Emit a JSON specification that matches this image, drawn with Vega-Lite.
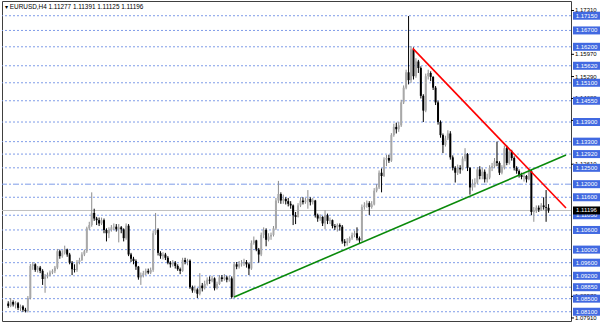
{
"$schema": "https://vega.github.io/schema/vega-lite/v6.json",
"width": 569, "height": 320,
"autosize": {"type": "none"},
"padding": {"left": 2, "top": 1, "right": 29, "bottom": 12},
"background": "#ffffff",
"config": {"view": {"stroke": "#404040", "strokeWidth": 1}, "font": "Liberation Sans"},
"title": {"text": "▾  EURUSD,H4  1.11277 1.11391 1.11125 1.11196", "anchor": "start", "frame": "group", "orient": "top", "offset": -9, "fontSize": 6.4, "fontWeight": "normal", "color": "#000000", "font": "Liberation Sans", "dx": 3},
"datasets": {
"bars": [
{"i":0,"o":1.0835,"h":1.0842,"l":1.0822,"c":1.0828},
{"i":1,"o":1.0828,"h":1.0852,"l":1.0824,"c":1.0840},
{"i":2,"o":1.0840,"h":1.0845,"l":1.0826,"c":1.0832},
{"i":3,"o":1.0832,"h":1.0842,"l":1.0820,"c":1.0836},
{"i":4,"o":1.0836,"h":1.0840,"l":1.0815,"c":1.0822},
{"i":5,"o":1.0822,"h":1.0832,"l":1.0812,"c":1.0826},
{"i":6,"o":1.0826,"h":1.0830,"l":1.0810,"c":1.0816},
{"i":7,"o":1.0816,"h":1.0822,"l":1.0808,"c":1.0812},
{"i":8,"o":1.0812,"h":1.0858,"l":1.0808,"c":1.0852},
{"i":9,"o":1.0852,"h":1.0956,"l":1.0848,"c":1.0950},
{"i":10,"o":1.0950,"h":1.0962,"l":1.0938,"c":1.0955},
{"i":11,"o":1.0955,"h":1.0958,"l":1.0932,"c":1.0938},
{"i":12,"o":1.0938,"h":1.0950,"l":1.0930,"c":1.0945},
{"i":13,"o":1.0945,"h":1.0950,"l":1.0928,"c":1.0935},
{"i":14,"o":1.0935,"h":1.0940,"l":1.0892,"c":1.0910},
{"i":15,"o":1.0910,"h":1.0925,"l":1.0868,"c":1.0918},
{"i":16,"o":1.0918,"h":1.0930,"l":1.0912,"c":1.0923},
{"i":17,"o":1.0923,"h":1.0936,"l":1.0918,"c":1.0930},
{"i":18,"o":1.0930,"h":1.0940,"l":1.0925,"c":1.0934},
{"i":19,"o":1.0934,"h":1.0950,"l":1.0928,"c":1.0945},
{"i":20,"o":1.0945,"h":1.1002,"l":1.0940,"c":1.0995},
{"i":21,"o":1.0995,"h":1.1000,"l":1.0972,"c":1.0980},
{"i":22,"o":1.0980,"h":1.0998,"l":1.0975,"c":1.0990},
{"i":23,"o":1.0990,"h":1.1012,"l":1.0985,"c":1.1000},
{"i":24,"o":1.1000,"h":1.1003,"l":1.0978,"c":1.0985},
{"i":25,"o":1.0985,"h":1.0990,"l":1.0955,"c":1.0960},
{"i":26,"o":1.0960,"h":1.0965,"l":1.0922,"c":1.0940},
{"i":27,"o":1.0940,"h":1.0955,"l":1.0930,"c":1.0938},
{"i":28,"o":1.0938,"h":1.0968,"l":1.0932,"c":1.0962},
{"i":29,"o":1.0962,"h":1.0975,"l":1.0955,"c":1.0968},
{"i":30,"o":1.0968,"h":1.0992,"l":1.0965,"c":1.0985},
{"i":31,"o":1.0985,"h":1.1000,"l":1.0980,"c":1.0995},
{"i":32,"o":1.0995,"h":1.1070,"l":1.0990,"c":1.1065},
{"i":33,"o":1.1065,"h":1.1085,"l":1.1060,"c":1.1075},
{"i":34,"o":1.1075,"h":1.1175,"l":1.1070,"c":1.1112},
{"i":35,"o":1.1112,"h":1.1125,"l":1.1088,"c":1.1095},
{"i":36,"o":1.1095,"h":1.1100,"l":1.1075,"c":1.1090},
{"i":37,"o":1.1090,"h":1.1098,"l":1.1072,"c":1.1080},
{"i":38,"o":1.1080,"h":1.1098,"l":1.1075,"c":1.1090},
{"i":39,"o":1.1090,"h":1.1095,"l":1.1050,"c":1.1060},
{"i":40,"o":1.1060,"h":1.1065,"l":1.1025,"c":1.1050},
{"i":41,"o":1.1050,"h":1.1068,"l":1.1035,"c":1.1060},
{"i":42,"o":1.1060,"h":1.1075,"l":1.1055,"c":1.1068},
{"i":43,"o":1.1068,"h":1.1080,"l":1.1060,"c":1.1070},
{"i":44,"o":1.1070,"h":1.1078,"l":1.1055,"c":1.1062},
{"i":45,"o":1.1062,"h":1.1078,"l":1.1022,"c":1.1068},
{"i":46,"o":1.1068,"h":1.1072,"l":1.1050,"c":1.1062},
{"i":47,"o":1.1062,"h":1.1065,"l":1.1025,"c":1.1035},
{"i":48,"o":1.1035,"h":1.1080,"l":1.1030,"c":1.1073},
{"i":49,"o":1.1073,"h":1.1078,"l":1.0980,"c":1.0985},
{"i":50,"o":1.0985,"h":1.0990,"l":1.0962,"c":1.0972},
{"i":51,"o":1.0972,"h":1.0978,"l":1.0955,"c":1.0965},
{"i":52,"o":1.0965,"h":1.0970,"l":1.0938,"c":1.0948},
{"i":53,"o":1.0948,"h":1.0950,"l":1.0908,"c":1.0915},
{"i":54,"o":1.0915,"h":1.0930,"l":1.0892,"c":1.0922},
{"i":55,"o":1.0922,"h":1.0935,"l":1.0915,"c":1.0928},
{"i":56,"o":1.0928,"h":1.0942,"l":1.0922,"c":1.0935},
{"i":57,"o":1.0935,"h":1.0942,"l":1.0925,"c":1.0930},
{"i":58,"o":1.0930,"h":1.0945,"l":1.0925,"c":1.0938},
{"i":59,"o":1.0938,"h":1.1058,"l":1.0932,"c":1.1050},
{"i":60,"o":1.1050,"h":1.1112,"l":1.1045,"c":1.1060},
{"i":61,"o":1.1060,"h":1.1065,"l":1.0982,"c":1.0990},
{"i":62,"o":1.0990,"h":1.0995,"l":1.0972,"c":1.0980},
{"i":63,"o":1.0980,"h":1.0992,"l":1.0970,"c":1.0985},
{"i":64,"o":1.0985,"h":1.0990,"l":1.0968,"c":1.0975},
{"i":65,"o":1.0975,"h":1.0980,"l":1.0955,"c":1.0960},
{"i":66,"o":1.0960,"h":1.0965,"l":1.0945,"c":1.0955},
{"i":67,"o":1.0955,"h":1.0968,"l":1.0948,"c":1.0960},
{"i":68,"o":1.0960,"h":1.0965,"l":1.0942,"c":1.0950},
{"i":69,"o":1.0950,"h":1.0955,"l":1.0935,"c":1.0940},
{"i":70,"o":1.0940,"h":1.0945,"l":1.0925,"c":1.0935},
{"i":71,"o":1.0935,"h":1.0975,"l":1.0932,"c":1.0968},
{"i":72,"o":1.0968,"h":1.0975,"l":1.0955,"c":1.0962},
{"i":73,"o":1.0962,"h":1.0972,"l":1.0952,"c":1.0966},
{"i":74,"o":1.0966,"h":1.0970,"l":1.0880,"c":1.0885},
{"i":75,"o":1.0885,"h":1.0890,"l":1.0868,"c":1.0875},
{"i":76,"o":1.0875,"h":1.0890,"l":1.0868,"c":1.0878},
{"i":77,"o":1.0878,"h":1.0882,"l":1.0852,"c":1.0865},
{"i":78,"o":1.0865,"h":1.0928,"l":1.0860,"c":1.0890},
{"i":79,"o":1.0890,"h":1.0898,"l":1.0872,"c":1.0882},
{"i":80,"o":1.0882,"h":1.0905,"l":1.0878,"c":1.0895},
{"i":81,"o":1.0895,"h":1.0915,"l":1.0890,"c":1.0908},
{"i":82,"o":1.0908,"h":1.0918,"l":1.0895,"c":1.0905},
{"i":83,"o":1.0905,"h":1.0920,"l":1.0900,"c":1.0912},
{"i":84,"o":1.0912,"h":1.0915,"l":1.0875,"c":1.0882},
{"i":85,"o":1.0882,"h":1.0902,"l":1.0878,"c":1.0895},
{"i":86,"o":1.0895,"h":1.0922,"l":1.0892,"c":1.0915},
{"i":87,"o":1.0915,"h":1.0922,"l":1.0902,"c":1.0910},
{"i":88,"o":1.0910,"h":1.0925,"l":1.0905,"c":1.0915},
{"i":89,"o":1.0915,"h":1.0920,"l":1.0900,"c":1.0908},
{"i":90,"o":1.0908,"h":1.0920,"l":1.0902,"c":1.0912},
{"i":91,"o":1.0912,"h":1.0918,"l":1.0850,"c":1.0855},
{"i":92,"o":1.0855,"h":1.0962,"l":1.0852,"c":1.0955},
{"i":93,"o":1.0955,"h":1.0962,"l":1.0940,"c":1.0948},
{"i":94,"o":1.0948,"h":1.0965,"l":1.0942,"c":1.0955},
{"i":95,"o":1.0955,"h":1.0968,"l":1.0948,"c":1.0958},
{"i":96,"o":1.0958,"h":1.0972,"l":1.0950,"c":1.0962},
{"i":97,"o":1.0962,"h":1.0968,"l":1.0945,"c":1.0955},
{"i":98,"o":1.0955,"h":1.0960,"l":1.0922,"c":1.0942},
{"i":99,"o":1.0942,"h":1.1028,"l":1.0938,"c":1.1020},
{"i":100,"o":1.1020,"h":1.1040,"l":1.1015,"c":1.1028},
{"i":101,"o":1.1028,"h":1.1030,"l":1.0995,"c":1.1000},
{"i":102,"o":1.1000,"h":1.1005,"l":1.0960,"c":1.0985},
{"i":103,"o":1.0985,"h":1.1052,"l":1.0980,"c":1.1045},
{"i":104,"o":1.1045,"h":1.1068,"l":1.1035,"c":1.1060},
{"i":105,"o":1.1060,"h":1.1065,"l":1.1010,"c":1.1030},
{"i":106,"o":1.1030,"h":1.1050,"l":1.1025,"c":1.1040},
{"i":107,"o":1.1040,"h":1.1052,"l":1.1030,"c":1.1045},
{"i":108,"o":1.1045,"h":1.1072,"l":1.1040,"c":1.1065},
{"i":109,"o":1.1065,"h":1.1158,"l":1.1060,"c":1.1150},
{"i":110,"o":1.1150,"h":1.1210,"l":1.1142,"c":1.1170},
{"i":111,"o":1.1170,"h":1.1175,"l":1.1140,"c":1.1150},
{"i":112,"o":1.1150,"h":1.1168,"l":1.1140,"c":1.1155},
{"i":113,"o":1.1155,"h":1.1160,"l":1.1138,"c":1.1148},
{"i":114,"o":1.1148,"h":1.1158,"l":1.1132,"c":1.1140},
{"i":115,"o":1.1140,"h":1.1148,"l":1.1125,"c":1.1135},
{"i":116,"o":1.1135,"h":1.1138,"l":1.1075,"c":1.1105},
{"i":117,"o":1.1105,"h":1.1115,"l":1.1078,"c":1.1100},
{"i":118,"o":1.1100,"h":1.1142,"l":1.1098,"c":1.1135},
{"i":119,"o":1.1135,"h":1.1160,"l":1.1130,"c":1.1150},
{"i":120,"o":1.1150,"h":1.1160,"l":1.1138,"c":1.1145},
{"i":121,"o":1.1145,"h":1.1158,"l":1.1140,"c":1.1150},
{"i":122,"o":1.1150,"h":1.1182,"l":1.1125,"c":1.1155},
{"i":123,"o":1.1155,"h":1.1160,"l":1.1135,"c":1.1145},
{"i":124,"o":1.1145,"h":1.1158,"l":1.1138,"c":1.1150},
{"i":125,"o":1.1150,"h":1.1152,"l":1.1098,"c":1.1105},
{"i":126,"o":1.1105,"h":1.1110,"l":1.1085,"c":1.1095},
{"i":127,"o":1.1095,"h":1.1108,"l":1.1088,"c":1.1100},
{"i":128,"o":1.1100,"h":1.1102,"l":1.1072,"c":1.1080},
{"i":129,"o":1.1080,"h":1.1120,"l":1.1062,"c":1.1105},
{"i":130,"o":1.1105,"h":1.1110,"l":1.1078,"c":1.1088},
{"i":131,"o":1.1088,"h":1.1098,"l":1.1078,"c":1.1090},
{"i":132,"o":1.1090,"h":1.1092,"l":1.1065,"c":1.1072},
{"i":133,"o":1.1072,"h":1.1078,"l":1.1060,"c":1.1068},
{"i":134,"o":1.1068,"h":1.1080,"l":1.1055,"c":1.1075},
{"i":135,"o":1.1075,"h":1.1080,"l":1.1058,"c":1.1070},
{"i":136,"o":1.1070,"h":1.1075,"l":1.1018,"c":1.1025},
{"i":137,"o":1.1025,"h":1.1032,"l":1.1010,"c":1.1020},
{"i":138,"o":1.1020,"h":1.1035,"l":1.1012,"c":1.1025},
{"i":139,"o":1.1025,"h":1.1040,"l":1.1020,"c":1.1035},
{"i":140,"o":1.1035,"h":1.1052,"l":1.1030,"c":1.1045},
{"i":141,"o":1.1045,"h":1.1058,"l":1.1038,"c":1.1050},
{"i":142,"o":1.1050,"h":1.1068,"l":1.1028,"c":1.1035},
{"i":143,"o":1.1035,"h":1.1040,"l":1.1020,"c":1.1028},
{"i":144,"o":1.1028,"h":1.1138,"l":1.1025,"c":1.1130},
{"i":145,"o":1.1130,"h":1.1145,"l":1.1122,"c":1.1135},
{"i":146,"o":1.1135,"h":1.1150,"l":1.1128,"c":1.1142},
{"i":147,"o":1.1142,"h":1.1148,"l":1.1106,"c":1.1130},
{"i":148,"o":1.1130,"h":1.1148,"l":1.1125,"c":1.1138},
{"i":149,"o":1.1138,"h":1.1188,"l":1.1135,"c":1.1180},
{"i":150,"o":1.1180,"h":1.1200,"l":1.1175,"c":1.1190},
{"i":151,"o":1.1190,"h":1.1242,"l":1.1185,"c":1.1235},
{"i":152,"o":1.1235,"h":1.1248,"l":1.1175,"c":1.1225},
{"i":153,"o":1.1225,"h":1.1282,"l":1.1222,"c":1.1275},
{"i":154,"o":1.1275,"h":1.1290,"l":1.1255,"c":1.1280},
{"i":155,"o":1.1280,"h":1.1290,"l":1.1265,"c":1.1272},
{"i":156,"o":1.1272,"h":1.1356,"l":1.1268,"c":1.1350},
{"i":157,"o":1.1350,"h":1.1385,"l":1.1345,"c":1.1375},
{"i":158,"o":1.1375,"h":1.1388,"l":1.1355,"c":1.1368},
{"i":159,"o":1.1368,"h":1.1390,"l":1.1360,"c":1.1380},
{"i":160,"o":1.1380,"h":1.1458,"l":1.1375,"c":1.1450},
{"i":161,"o":1.1450,"h":1.1502,"l":1.1445,"c":1.1495},
{"i":162,"o":1.1495,"h":1.1550,"l":1.1490,"c":1.1542},
{"i":163,"o":1.1542,"h":1.1714,"l":1.1505,"c":1.1518},
{"i":164,"o":1.1518,"h":1.1622,"l":1.1510,"c":1.1612},
{"i":165,"o":1.1612,"h":1.1618,"l":1.1520,"c":1.1530},
{"i":166,"o":1.1530,"h":1.1585,"l":1.1525,"c":1.1575},
{"i":167,"o":1.1575,"h":1.1580,"l":1.1540,"c":1.1555},
{"i":168,"o":1.1555,"h":1.1560,"l":1.1462,"c":1.1470},
{"i":169,"o":1.1470,"h":1.1475,"l":1.1390,"c":1.1425},
{"i":170,"o":1.1425,"h":1.1538,"l":1.1420,"c":1.1530},
{"i":171,"o":1.1530,"h":1.1550,"l":1.1520,"c":1.1540},
{"i":172,"o":1.1540,"h":1.1545,"l":1.1515,"c":1.1528},
{"i":173,"o":1.1528,"h":1.1530,"l":1.1488,"c":1.1495},
{"i":174,"o":1.1495,"h":1.1500,"l":1.1442,"c":1.1450},
{"i":175,"o":1.1450,"h":1.1455,"l":1.1382,"c":1.1390},
{"i":176,"o":1.1390,"h":1.1395,"l":1.1342,"c":1.1350},
{"i":177,"o":1.1350,"h":1.1355,"l":1.1295,"c":1.1320},
{"i":178,"o":1.1320,"h":1.1348,"l":1.1315,"c":1.1340},
{"i":179,"o":1.1340,"h":1.1365,"l":1.1335,"c":1.1355},
{"i":180,"o":1.1355,"h":1.1362,"l":1.1275,"c":1.1282},
{"i":181,"o":1.1282,"h":1.1288,"l":1.1242,"c":1.1250},
{"i":182,"o":1.1250,"h":1.1255,"l":1.1205,"c":1.1235},
{"i":183,"o":1.1235,"h":1.1260,"l":1.1228,"c":1.1250},
{"i":184,"o":1.1250,"h":1.1258,"l":1.1232,"c":1.1245},
{"i":185,"o":1.1245,"h":1.1285,"l":1.1242,"c":1.1278},
{"i":186,"o":1.1278,"h":1.1310,"l":1.1270,"c":1.1292},
{"i":187,"o":1.1292,"h":1.1295,"l":1.1240,"c":1.1250},
{"i":188,"o":1.1250,"h":1.1252,"l":1.1168,"c":1.1190},
{"i":189,"o":1.1190,"h":1.1215,"l":1.1180,"c":1.1200},
{"i":190,"o":1.1200,"h":1.1218,"l":1.1190,"c":1.1205},
{"i":191,"o":1.1205,"h":1.1252,"l":1.1200,"c":1.1245},
{"i":192,"o":1.1245,"h":1.1255,"l":1.1215,"c":1.1225},
{"i":193,"o":1.1225,"h":1.1250,"l":1.1215,"c":1.1238},
{"i":194,"o":1.1238,"h":1.1245,"l":1.1205,"c":1.1215},
{"i":195,"o":1.1215,"h":1.1232,"l":1.1205,"c":1.1220},
{"i":196,"o":1.1220,"h":1.1258,"l":1.1215,"c":1.1250},
{"i":197,"o":1.1250,"h":1.1265,"l":1.1240,"c":1.1255},
{"i":198,"o":1.1255,"h":1.1280,"l":1.1250,"c":1.1270},
{"i":199,"o":1.1270,"h":1.1330,"l":1.1255,"c":1.1265},
{"i":200,"o":1.1265,"h":1.1270,"l":1.1228,"c":1.1235},
{"i":201,"o":1.1235,"h":1.1258,"l":1.1230,"c":1.1250},
{"i":202,"o":1.1250,"h":1.1318,"l":1.1245,"c":1.1310},
{"i":203,"o":1.1310,"h":1.1318,"l":1.1258,"c":1.1265},
{"i":204,"o":1.1265,"h":1.1308,"l":1.1260,"c":1.1300},
{"i":205,"o":1.1300,"h":1.1305,"l":1.1272,"c":1.1280},
{"i":206,"o":1.1280,"h":1.1285,"l":1.1242,"c":1.1250},
{"i":207,"o":1.1250,"h":1.1255,"l":1.1232,"c":1.1240},
{"i":208,"o":1.1240,"h":1.1245,"l":1.1220,"c":1.1228},
{"i":209,"o":1.1228,"h":1.1235,"l":1.1215,"c":1.1222},
{"i":210,"o":1.1222,"h":1.1232,"l":1.1208,"c":1.1225},
{"i":211,"o":1.1225,"h":1.1228,"l":1.1205,"c":1.1215},
{"i":212,"o":1.1215,"h":1.1250,"l":1.1212,"c":1.1240},
{"i":213,"o":1.1240,"h":1.1245,"l":1.1105,"c":1.1115},
{"i":214,"o":1.1115,"h":1.1130,"l":1.1085,"c":1.1120},
{"i":215,"o":1.1120,"h":1.1135,"l":1.1112,"c":1.1128},
{"i":216,"o":1.1128,"h":1.1135,"l":1.1115,"c":1.1122},
{"i":217,"o":1.1122,"h":1.1142,"l":1.1118,"c":1.1135},
{"i":218,"o":1.1135,"h":1.1160,"l":1.1122,"c":1.1130},
{"i":219,"o":1.1130,"h":1.1182,"l":1.1085,"c":1.11277},
{"i":220,"o":1.11277,"h":1.11391,"l":1.11125,"c":1.11196}
],
"levels": [
{"p":1.1715},{"p":1.1670},{"p":1.1620},{"p":1.1562},{"p":1.1510},{"p":1.1455},{"p":1.1390},{"p":1.1330},{"p":1.1292},{"p":1.1250},{"p":1.1200},{"p":1.1160},{"p":1.1105},{"p":1.1060},{"p":1.1000},{"p":1.0960},{"p":1.0920},{"p":1.0885},{"p":1.0850},{"p":1.0810}
],
"scale": [
{"p":1.1731},{"p":1.1597},{"p":1.1529},{"p":1.1462},{"p":1.1395},{"p":1.1261},{"p":1.0857},{"p":1.0791}
],
"bid": [{"p":1.11196}],
"trend": [
{"line":"resistance","i":164.7,"p":1.1615},
{"line":"resistance","i":227.1,"p":1.1127},
{"line":"support","i":92,"p":1.0855},
{"line":"support","i":227.1,"p":1.1289}
]
},
"layer": [
{
"data": {"name": "levels"},
"mark": {"type": "rule", "color": "#7f9ce8", "strokeWidth": 1},
"encoding": {
"y": {"field": "p", "type": "quantitative", "scale": {"domain": [1.07817, 1.176], "nice": false, "zero": false}, "axis": null},
"strokeDash": {"condition": {"test": "datum.p == 1.12", "value": [6, 2, 2, 2]}, "value": [2, 2]}
}
},
{
"data": {"name": "bid"},
"mark": {"type": "rule", "color": "#c0c0c0", "strokeWidth": 1},
"encoding": {"y": {"field": "p", "type": "quantitative", "axis": null}}
},
{
"data": {"name": "bars"},
"mark": {"type": "rule", "strokeWidth": 1},
"encoding": {
"x": {"field": "i", "type": "quantitative", "scale": {"domain": [-0.5, 227.1], "nice": false, "zero": false},
"axis": {"orient": "bottom", "title": null, "values": [0,17,34,51,68,85,102,119,136,153,170,187,204], "labelExpr": "['20 Jul 2015','22 Jul 20:00','27 Jul 12:00','30 Jul 04:00','3 Aug 20:00','6 Aug 12:00','11 Aug 04:00','13 Aug 20:00','18 Aug 12:00','21 Aug 04:00','25 Aug 20:00','28 Aug 12:00','2 Sep 04:00'][round(datum.value/17)]", "labelAlign": "left", "labelOffset": 1, "labelFontSize": 6, "labelColor": "#000000", "tickColor": "#000000", "tickSize": 3, "labelPadding": 1, "domain": false, "grid": false, "labelFont": "Liberation Sans", "labelOverlap": false, "labelBound": false}},
"y": {"field": "l", "type": "quantitative", "axis": null},
"y2": {"field": "h"},
"color": {"condition": {"test": "datum.c >= datum.o", "value": "#8c8c8c"}, "value": "#000000"}
}
},
{
"data": {"name": "bars"},
"mark": {"type": "bar", "width": 2},
"encoding": {
"x": {"field": "i", "type": "quantitative", "axis": null},
"y": {"field": "o", "type": "quantitative", "axis": null},
"y2": {"field": "c"},
"color": {"condition": {"test": "datum.c >= datum.o", "value": "#a8a8a8"}, "value": "#000000"}
}
},
{
"data": {"name": "trend"},
"mark": {"type": "line", "strokeWidth": 1.6, "clip": true},
"encoding": {
"x": {"field": "i", "type": "quantitative", "axis": null},
"y": {"field": "p", "type": "quantitative", "axis": null},
"detail": {"field": "line"},
"color": {"field": "line", "type": "nominal", "scale": {"domain": ["resistance", "support"], "range": ["#ff0000", "#0a8a0a"]}, "legend": null}
}
},
{
"data": {"name": "scale"},
"mark": {"type": "rule", "x": {"expr": "width"}, "x2": {"expr": "width + 3"}, "strokeWidth": 1, "color": "#000000"},
"encoding": {"y": {"field": "p", "type": "quantitative", "axis": null}}
},
{
"data": {"name": "scale"},
"mark": {"type": "text", "x": {"expr": "width + 4"}, "align": "left", "baseline": "middle", "fontSize": 6, "color": "#000000", "font": "Liberation Sans"},
"encoding": {"y": {"field": "p", "type": "quantitative", "axis": null}, "text": {"field": "p", "type": "quantitative", "format": ".5f"}}
},
{
"data": {"name": "levels"},
"mark": {"type": "rule", "x": {"expr": "width + 2"}, "x2": {"expr": "width + 29"}, "strokeWidth": 8, "color": "#4169e1", "strokeCap": "butt"},
"encoding": {"y": {"field": "p", "type": "quantitative", "axis": null}}
},
{
"data": {"name": "levels"},
"mark": {"type": "text", "x": {"expr": "width + 15.5"}, "align": "center", "baseline": "middle", "fontSize": 6, "color": "#ffffff", "font": "Liberation Sans"},
"encoding": {"y": {"field": "p", "type": "quantitative", "axis": null}, "text": {"field": "p", "type": "quantitative", "format": ".5f"}}
},
{
"data": {"name": "bid"},
"mark": {"type": "rule", "x": {"expr": "width + 2"}, "x2": {"expr": "width + 29"}, "strokeWidth": 8, "color": "#000000", "strokeCap": "butt"},
"encoding": {"y": {"field": "p", "type": "quantitative", "axis": null}}
},
{
"data": {"name": "bid"},
"mark": {"type": "text", "x": {"expr": "width + 15.5"}, "align": "center", "baseline": "middle", "fontSize": 6, "color": "#ffffff", "font": "Liberation Sans"},
"encoding": {"y": {"field": "p", "type": "quantitative", "axis": null}, "text": {"field": "p", "type": "quantitative", "format": ".5f"}}
}
]
}
